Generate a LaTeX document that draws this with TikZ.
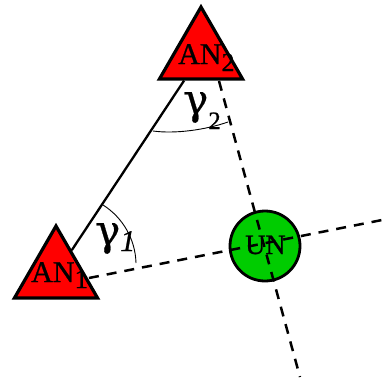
\documentclass[tikz,border=0pt]{standalone}
\usepackage{fontspec}
\setmainfont{Liberation Serif}
\newfontfamily\heavyfont{Liberation Serif}[FakeBold=0.8]
\newfontfamily\heavyit{Liberation Serif Italic}[FakeBold=0.8]
\newfontfamily\greekfont{DejaVu Serif}[FakeBold=0.6]
\usetikzlibrary{shapes.geometric}
\definecolor{anred}{RGB}{255,0,0}
\definecolor{ungreen}{RGB}{0,204,0}
\begin{document}
\begin{tikzpicture}[x=1pt,y=-1pt,
  antri/.style={regular polygon, regular polygon sides=3, minimum size=96pt, inner sep=0pt,
    draw=black, line width=3.2pt, fill=anred, line join=miter},
  unode/.style={circle, minimum size=70pt, inner sep=0pt, draw=black, line width=2.8pt, fill=ungreen},
  lbl/.style={inner sep=0pt, anchor=base west, font=\heavyfont\fontsize{30}{30}\selectfont},
  glbl/.style={inner sep=0pt, anchor=base west, font=\greekfont\fontsize{42}{42}\selectfont},
  ray/.style={dash pattern=on 10pt off 8pt, line width=2.5pt},
  link/.style={line width=2.3pt},
  anglearc/.style={line width=0.9pt}
]
\useasboundingbox (0,0) rectangle (387,381);
% UN node
\node[unode] (un) at (265,246) {};
\node[lbl, font=\heavyfont\fontsize{28}{28}\selectfont] (untext) at (245,254) {UN};
% AN nodes
\node[antri] (an2) at (201,55) {};
\node[antri] (an1) at (56,274) {};
\node[lbl] (an2text) at (178,64) {AN\raisebox{-7pt}{\fontsize{26}{26}\selectfont 2}};
\node[lbl] (an1text) at (31,282) {AN\raisebox{-6pt}{\fontsize{27}{27}\selectfont 1}};
% solid link
\draw[link] (an1) -- (an2);
% dashed rays through UN
\coordinate (d1a) at (89,278);
\coordinate (d1b) at (387,219);
\coordinate (d2a) at (219,81);
\coordinate (d2b) at (300,377);
\draw[ray] (d1a) -- (d1b);
\draw[ray] (d2a) -- (d2b);
% angle arcs
\coordinate (g1a) at (136,263);
\draw[anglearc] (g1a) arc[start angle=-1.6, end angle=-57.7, radius=71];
\coordinate (g2a) at (153,131);
\coordinate (g2b) at (228,122);
\draw[anglearc] (g2a) .. controls (175,134) and (205,130) .. (g2b);
% angle labels
\node[glbl] (gam1) at (95,245) {γ\raisebox{-6pt}{\heavyit\fontsize{30}{30}\selectfont 1}};
\node[glbl] (gam2) at (183,114) {γ\raisebox{-15pt}{\heavyfont\fontsize{25}{25}\selectfont 2}};
\end{tikzpicture}
\end{document}
